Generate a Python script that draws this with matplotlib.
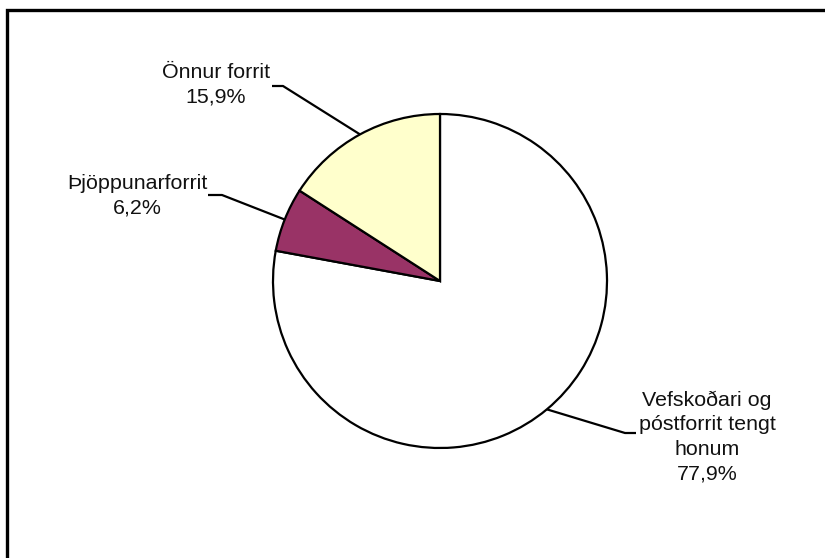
import matplotlib.pyplot as plt
import numpy as np
from matplotlib.patches import Rectangle

plt.rcParams['font.family'] = ['Liberation Sans', 'DejaVu Sans']

labels = ['Vefskoðari og\npóstforrit tengt\nhonum', 'Þjöppunarforrit', 'Önnur forrit']
values = [77.9, 6.2, 15.9]
colors = ['#FFFFFF', '#993366', '#FFFFCC']

W, H = 825, 558
fig = plt.figure(figsize=(W / 100, H / 100), dpi=100)
ax = fig.add_axes([0, 0, 1, 1])

cx, cy, r = 440, H - 281, 167

wedges, _ = ax.pie(values, colors=colors, startangle=90, counterclock=False,
                   center=(cx, cy), radius=r, frame=True,
                   wedgeprops=dict(edgecolor='black', linewidth=1.6))
ax.set_xlim(0, W)
ax.set_ylim(0, H)
ax.axis('off')

# elbow point, end of horizontal stub, text centre (pixels from top-left)
layout = [
    ((625, 433), (636, 433), (707, 437)),
    ((222, 195), (208, 195), (137, 196)),
    ((283, 86), (272, 86), (216, 85)),
]

for w, lab, v, (elb, end, txt) in zip(wedges, labels, values, layout):
    ang = np.deg2rad((w.theta1 + w.theta2) / 2)
    x0 = cx + r * np.cos(ang)
    y0 = cy + r * np.sin(ang)
    ax.plot([x0, elb[0], end[0]], [y0, H - elb[1], H - end[1]],
            color='black', lw=1.6, solid_capstyle='butt')
    pct = f"{v:.1f}".replace('.', ',') + '%'
    ax.text(txt[0], H - txt[1], lab + '\n' + pct, ha='center', va='center',
            fontsize=15.4, linespacing=1.38, color='#111111')

fig.patches.append(Rectangle((6.5 / W, -0.1), 2, 1.1 - 10.5 / H, transform=fig.transFigure,
                             fill=False, edgecolor='black', lw=2.4))

fig.savefig('out.png', dpi=100)
